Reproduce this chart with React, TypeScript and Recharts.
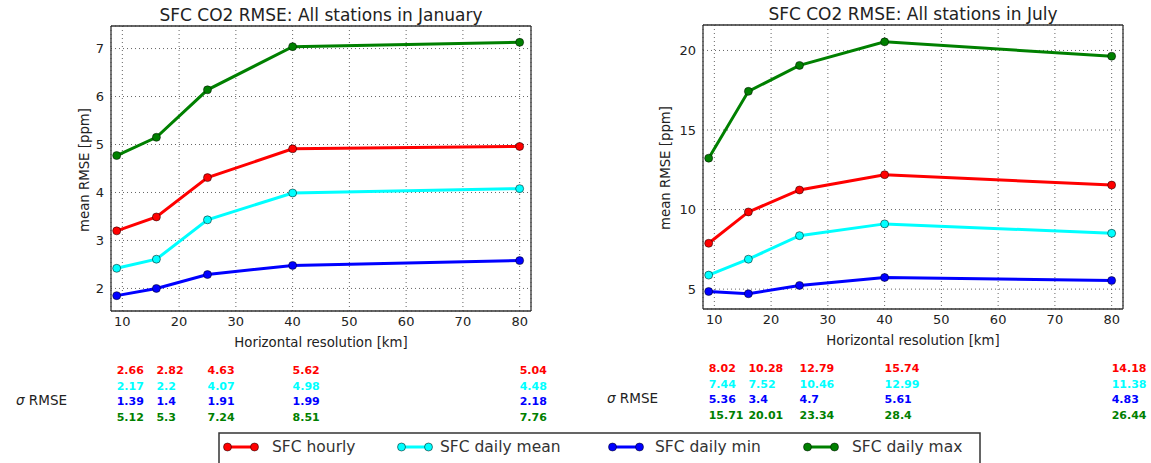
import React from "react";
import { LineChart, Line, XAxis, YAxis, CartesianGrid } from "recharts";

const FONT = "DejaVu Sans, Verdana, sans-serif";

// resolutions of the runs [km]
const RESOLUTIONS = [9, 16, 25, 40, 80];
const X_TICKS = [10, 20, 30, 40, 50, 60, 70, 80];

const SERIES_NAMES = ["SFC hourly", "SFC daily mean", "SFC daily min", "SFC daily max"];
const SERIES_COLORS = ["#ff0000", "#00ffff", "#0000ff", "#008000"];

// January, mean RMSE [ppm]
const JAN_HOURLY = [3.2, 3.49, 4.31, 4.91, 4.96];
const JAN_MEAN = [2.42, 2.61, 3.43, 3.99, 4.08];
const JAN_MIN = [1.85, 2.0, 2.29, 2.48, 2.58];
const JAN_MAX = [4.77, 5.15, 6.14, 7.04, 7.13];

// January, sigma RMSE
const JAN_SIG_HOURLY = [2.66, 2.82, 4.63, 5.62, 5.04];
const JAN_SIG_MEAN = [2.17, 2.2, 4.07, 4.98, 4.48];
const JAN_SIG_MIN = [1.39, 1.4, 1.91, 1.99, 2.18];
const JAN_SIG_MAX = [5.12, 5.3, 7.24, 8.51, 7.76];

// July, mean RMSE [ppm]
const JUL_HOURLY = [7.88, 9.85, 11.23, 12.19, 11.54];
const JUL_MEAN = [5.88, 6.88, 8.36, 9.1, 8.51];
const JUL_MIN = [4.85, 4.71, 5.23, 5.73, 5.54];
const JUL_MAX = [13.23, 17.43, 19.06, 20.54, 19.64];

// July, sigma RMSE
const JUL_SIG_HOURLY = [8.02, 10.28, 12.79, 15.74, 14.18];
const JUL_SIG_MEAN = [7.44, 7.52, 10.46, 12.99, 11.38];
const JUL_SIG_MIN = [5.36, 3.4, 4.7, 5.61, 4.83];
const JUL_SIG_MAX = [15.71, 20.01, 23.34, 28.4, 26.44];

const JAN_Y_TICKS = [2, 3, 4, 5, 6, 7];
const JAN_Y_MINOR = [2, 2.5, 3, 3.5, 4, 4.5, 5, 5.5, 6, 6.5, 7];
const JUL_Y_TICKS = [5, 10, 15, 20];
const JUL_Y_MINOR = [4, 5, 6, 7, 8, 9, 10, 11, 12, 13, 14, 15, 16, 17, 18, 19, 20, 21];

const KEYS = ["hourly", "mean", "min", "max"];
const CHART_H = 432;
const FRAME = "#333";
const TICK_FS = 13;
const LABEL_FS = 13.3;

interface PanelProps {
  left: number;
  width: number;
  margin: { top: number; right: number; bottom: number; left: number };
  lines: number[][];
  sigma: number[][];
  yDomain: [number, number];
  yTicks: number[];
  yMinor: number[];
  rowY: number[];
  yLabelX: number;
  yLabelY: number;
  xLabelX: number;
  xLabelY: number;
}

function Panel(p: PanelProps) {
  const data = RESOLUTIONS.map((x, i) => {
    const row: Record<string, number> = { x };
    KEYS.forEach((k, s) => (row[k] = p.lines[s][i]));
    return row;
  });

  // sigma table: one column per resolution, left-aligned on the x scale
  const sigmaTick = (props: any) => {
    let idx = RESOLUTIONS.indexOf(Number(props.payload?.value));
    if (idx < 0 && typeof props.index === "number") idx = props.index;
    if (idx < 0) return <g />;
    return (
      <g>
        {p.sigma.map((vals, s) => (
          <text
            key={s}
            x={props.x}
            y={p.rowY[s]}
            dy="0.35em"
            textAnchor="start"
            fill={SERIES_COLORS[s]}
            fontWeight="bold"
            fontSize={11}
            fontFamily={FONT}
          >
            {String(vals[idx])}
          </text>
        ))}
      </g>
    );
  };

  const xDomain: [number, number] = [8, 82];

  return (
    <div style={{ position: "absolute", left: p.left, top: 0, width: p.width, height: CHART_H }}>
      <LineChart width={p.width} height={CHART_H} data={data} margin={p.margin} style={{ fontFamily: FONT }}>
        <CartesianGrid xAxisId="x" yAxisId="y" stroke="#555" strokeDasharray="1 3" strokeWidth={0.9} />
        <XAxis
          xAxisId="x"
          dataKey="x"
          type="number"
          domain={xDomain}
          allowDataOverflow
          ticks={X_TICKS}
          interval={0}
          height={40}
          tickSize={0}
          tickMargin={6}
          tickLine={false}
          axisLine={{ stroke: FRAME, strokeWidth: 1.3 }}
          tick={{ fontSize: TICK_FS, fill: "#222", fontFamily: FONT }}
          label={() => (
            <text x={p.xLabelX} y={p.xLabelY} dy="0.35em" textAnchor="middle" fontSize={LABEL_FS} fill="#222" fontFamily={FONT}>
              Horizontal resolution [km]
            </text>
          )}
        />
        <XAxis xAxisId="xb" dataKey="x" type="number" domain={xDomain} allowDataOverflow ticks={X_TICKS} interval={0} mirror height={1} tick={false} tickSize={4} axisLine={false} tickLine={{ stroke: FRAME }} />
        <XAxis xAxisId="xt" dataKey="x" type="number" orientation="top" domain={xDomain} allowDataOverflow ticks={X_TICKS} interval={0} mirror height={1} tick={false} tickSize={4} axisLine={{ stroke: FRAME, strokeWidth: 1.3 }} tickLine={{ stroke: FRAME }} />
        <XAxis xAxisId="tbl" dataKey="x" type="number" domain={xDomain} allowDataOverflow ticks={RESOLUTIONS} interval={0} mirror height={1} axisLine={false} tickLine={false} tick={sigmaTick} />
        <YAxis
          yAxisId="y"
          type="number"
          domain={p.yDomain}
          allowDataOverflow
          ticks={p.yTicks}
          interval={0}
          width={51}
          tickSize={0}
          tickMargin={7}
          tickLine={false}
          axisLine={{ stroke: FRAME, strokeWidth: 1.3 }}
          tick={{ fontSize: TICK_FS, fill: "#222", fontFamily: FONT }}
          label={() => (
            <text
              x={p.yLabelX}
              y={p.yLabelY}
              dy="0.35em"
              textAnchor="middle"
              fontSize={LABEL_FS}
              fill="#222"
              fontFamily={FONT}
              transform={`rotate(-90 ${p.yLabelX} ${p.yLabelY})`}
            >
              mean RMSE [ppm]
            </text>
          )}
        />
        <YAxis yAxisId="yl" type="number" domain={p.yDomain} allowDataOverflow ticks={p.yTicks} interval={0} mirror width={1} tick={false} tickSize={4} axisLine={false} tickLine={{ stroke: FRAME }} />
        <YAxis yAxisId="ylm" type="number" domain={p.yDomain} allowDataOverflow ticks={p.yMinor} interval={0} mirror width={1} tick={false} tickSize={2} axisLine={false} tickLine={{ stroke: FRAME }} />
        <YAxis yAxisId="yr" type="number" orientation="right" domain={p.yDomain} allowDataOverflow ticks={p.yTicks} interval={0} mirror width={1} tick={false} tickSize={4} axisLine={{ stroke: FRAME, strokeWidth: 1.3 }} tickLine={{ stroke: FRAME }} />
        <YAxis yAxisId="yrm" type="number" orientation="right" domain={p.yDomain} allowDataOverflow ticks={p.yMinor} interval={0} mirror width={1} tick={false} tickSize={2} axisLine={false} tickLine={{ stroke: FRAME }} />
        {KEYS.map((k, s) => (
          <Line
            key={k}
            xAxisId="x"
            yAxisId="y"
            type="linear"
            dataKey={k}
            stroke={SERIES_COLORS[s]}
            strokeWidth={3}
            dot={{ r: 4, fill: SERIES_COLORS[s], stroke: "#000", strokeWidth: 0.5 }}
            activeDot={false}
            isAnimationActive={false}
          />
        ))}
      </LineChart>
    </div>
  );
}

// legend layout (page pixels)
const LEGEND_BOX = { x: 219, y: 433, w: 761, h: 40 };
const LEGEND_ICON_X = [223, 397, 608, 803];
const LEGEND_TEXT_X = [272, 440, 655, 852];

function Overlay() {
  const legendY = 447;
  return (
    <svg width={1151} height={463} style={{ position: "absolute", left: 0, top: 0, pointerEvents: "none" }}>
      <g fontFamily={FONT} fill="#222">
        <text x={321} y={15} dy="0.35em" textAnchor="middle" fontSize={17}>
          SFC CO2 RMSE: All stations in January
        </text>
        <text x={913} y={14} dy="0.35em" textAnchor="middle" fontSize={17}>
          SFC CO2 RMSE: All stations in July
        </text>
        <text x={16} y={400} dy="0.35em" fontSize={13.5}>
          <tspan fontStyle="italic">σ</tspan> RMSE
        </text>
        <text x={607} y={398} dy="0.35em" fontSize={13.5}>
          <tspan fontStyle="italic">σ</tspan> RMSE
        </text>
      </g>
      <rect x={LEGEND_BOX.x} y={LEGEND_BOX.y} width={LEGEND_BOX.w} height={LEGEND_BOX.h} fill="#fff" stroke={FRAME} strokeWidth={1.5} />
      {SERIES_NAMES.map((name, s) => {
        const x0 = LEGEND_ICON_X[s];
        return (
          <g key={name}>
            <line x1={x0 + 4} x2={x0 + 32} y1={legendY} y2={legendY} stroke={SERIES_COLORS[s]} strokeWidth={3} />
            <circle cx={x0 + 4.5} cy={legendY} r={4} fill={SERIES_COLORS[s]} stroke="#000" strokeWidth={0.5} />
            <circle cx={x0 + 31.5} cy={legendY} r={4} fill={SERIES_COLORS[s]} stroke="#000" strokeWidth={0.5} />
            <text x={LEGEND_TEXT_X[s]} y={legendY} dy="0.35em" fontSize={15.5} fontFamily={FONT} fill="#333">
              {name}
            </text>
          </g>
        );
      })}
    </svg>
  );
}

export default function App() {
  return (
    <div style={{ position: "absolute", left: 0, top: 0, width: 1151, height: 463, background: "#fff", overflow: "hidden" }}>
      <Panel
        left={0}
        width={575}
        margin={{ top: 26, right: 44, bottom: 81, left: 60 }}
        lines={[JAN_HOURLY, JAN_MEAN, JAN_MIN, JAN_MAX]}
        sigma={[JAN_SIG_HOURLY, JAN_SIG_MEAN, JAN_SIG_MIN, JAN_SIG_MAX]}
        yDomain={[1.53, 7.47]}
        yTicks={JAN_Y_TICKS}
        yMinor={JAN_Y_MINOR}
        rowY={[370, 386, 401, 417]}
        yLabelX={84}
        yLabelY={170}
        xLabelX={321}
        xLabelY={342}
      />
      <Panel
        left={575}
        width={576}
        margin={{ top: 25, right: 28, bottom: 83, left: 77 }}
        lines={[JUL_HOURLY, JUL_MEAN, JUL_MIN, JUL_MAX]}
        sigma={[JUL_SIG_HOURLY, JUL_SIG_MEAN, JUL_SIG_MIN, JUL_SIG_MAX]}
        yDomain={[3.75, 21.6]}
        yTicks={JUL_Y_TICKS}
        yMinor={JUL_Y_MINOR}
        rowY={[368, 384, 399, 415]}
        yLabelX={90}
        yLabelY={168}
        xLabelX={338}
        xLabelY={340}
      />
      <Overlay />
    </div>
  );
}
